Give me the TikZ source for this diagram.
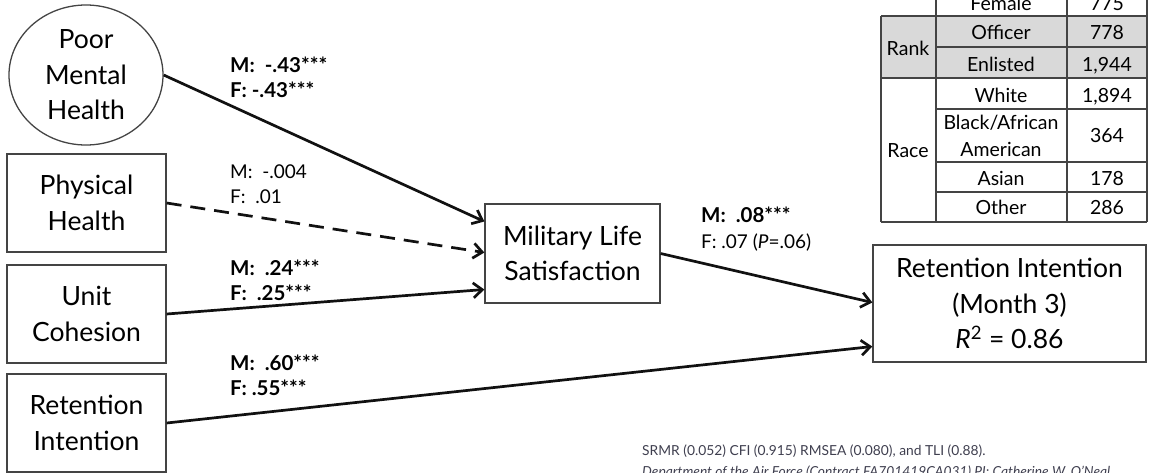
\documentclass[tikz,border=0pt]{standalone}
\usepackage{fontspec}
\setmainfont{Lato}
\usetikzlibrary{shapes.geometric,arrows.meta,calc}
\definecolor{edgec}{HTML}{111111}
\definecolor{framec}{HTML}{444444}
\definecolor{shadec}{HTML}{D9D9D9}
\definecolor{notec}{HTML}{3F3F4F}
\begin{document}
\begin{tikzpicture}[x=1pt,y=1pt,
  var/.style={draw=framec, line width=1.3pt, align=center, inner sep=0pt, text=black,
    font=\fontsize{26.5}{35.5}\selectfont},
  varbox/.style={var, rectangle, minimum width=159, minimum height=98},
  link/.style={line width=2.7pt, draw=edgec, -{Straight Barb[length=9pt,width=15pt]}},
  dashlink/.style={link, dash pattern=on 15pt off 9pt},
  lab/.style={anchor=base west, inner sep=0pt, font=\fontsize{19}{24}\selectfont},
  labb/.style={lab, font=\fontsize{20.5}{24}\selectfont\bfseries},
  tab/.style={anchor=base, inner sep=0pt, font=\fontsize{19.5}{27}\selectfont},
  tabline/.style={draw=framec, line width=1.3pt},
  note/.style={anchor=base west, inner sep=0pt, text=notec, font=\fontsize{13.8}{18}\selectfont}
]
\useasboundingbox (0,0) rectangle (1149,-472);

% ---------- table (top right) ----------
\fill[shadec] (881,-16) rectangle (1147,-78);
\draw[tabline] (881,-16) -- (1147,-16);
\draw[tabline] (936,-47) -- (1147,-47);
\draw[tabline] (881,-78) -- (1147,-78);
\draw[tabline] (936,-109) -- (1147,-109);
\draw[tabline] (936,-162) -- (1147,-162);
\draw[tabline] (936,-192) -- (1147,-192);
\draw[tabline] (881,-222) -- (1147,-222);
\draw[tabline] (881,-16) -- (881,-222);
\draw[tabline] (936,2) -- (936,-222);
\draw[tabline] (1067,2) -- (1067,-222);
\draw[tabline] (1147,2) -- (1147,-222);
\node[tab] (tfem) at (1001,-10) {Female};
\node[tab] (tfemn) at (1107,-10) {775};
\node[tab] (trank) at (908,-55) {Rank};
\node[tab] (toff) at (1001,-39) {Officer};
\node[tab] (toffn) at (1107,-39) {778};
\node[tab] (tenl) at (1001,-71) {Enlisted};
\node[tab] (tenln) at (1107,-71) {1,944};
\node[tab] (trace) at (908,-157) {Race};
\node[tab] (twhi) at (1001,-102) {White};
\node[tab] (twhin) at (1107,-102) {1,894};
\node[tab] (tbla) at (1001,-129) {Black/African};
\node[tab] (tame) at (1001,-156) {American};
\node[tab] (tblan) at (1107,-142) {364};
\node[tab] (tasi) at (1001,-185) {Asian};
\node[tab] (tasin) at (1107,-185) {178};
\node[tab] (toth) at (1001,-214) {Other};
\node[tab] (tothn) at (1107,-214) {286};

% ---------- variables ----------
\node[var, ellipse, minimum width=154, minimum height=140] (pmh) at (86,-75) {Poor\\Mental\\Health};
\node[varbox] (ph) at (86.5,-203) {Physical\\Health};
\node[varbox] (uc) at (86.5,-314) {Unit\\Cohesion};
\node[varbox] (ri) at (86.5,-423) {Retention\\Intention};
\node[var, rectangle, minimum width=175, minimum height=99] (mls) at (572.5,-253.5) {Military Life\\Satisfaction};
\node[var, rectangle, minimum width=273, minimum height=117] (out) at (1009.5,-303.5)
  {Retention Intention\\(Month 3)\\\textit{R}\textsuperscript{2} = 0.86};

% ---------- paths ----------
\draw[link] (pmh.east) -- ($(mls.west)+(0,32)$);
\draw[dashlink] (ph.east) -- ($(mls.west)+(0,1)$);
\draw[link] (uc.east) -- ($(mls.west)+(0,-36)$);
\draw[link] (mls.east) -- ($(out.west)+(0,1)$);
\draw[link] (ri.east) -- ($(out.west)+(0,-43)$);

% ---------- coefficients ----------
\node[labb] (l1m) at (230,-72) {M:\ \ -.43***};
\node[labb] (l1f) at (230,-97) {F: -.43***};
\node[lab] (l2m) at (230,-178) {M:\ \ -.004};
\node[lab] (l2f) at (230,-203) {F:\ \ .01};
\node[labb] (l3m) at (230,-275) {M:\ \ .24***};
\node[labb] (l3f) at (230,-300) {F:\ \ .25***};
\node[labb] (l4m) at (230,-370) {M:\ \ .60***};
\node[labb] (l4f) at (230,-395) {F: .55***};
\node[labb] (l5m) at (701,-222) {M:\ \ .08***};
\node[lab] (l5f) at (701,-248) {F: .07 (\textit{P}=.06)};

% ---------- notes ----------
\node[note] (n1) at (642,-455) {SRMR (0.052) CFI (0.915) RMSEA (0.080), and TLI (0.88).};
\node[note, font=\fontsize{13.8}{18}\selectfont\itshape] (n2) at (642,-476) {Department of the Air Force (Contract FA701419CA031) PI: Catherine W. O'Neal};
\end{tikzpicture}
\end{document}
